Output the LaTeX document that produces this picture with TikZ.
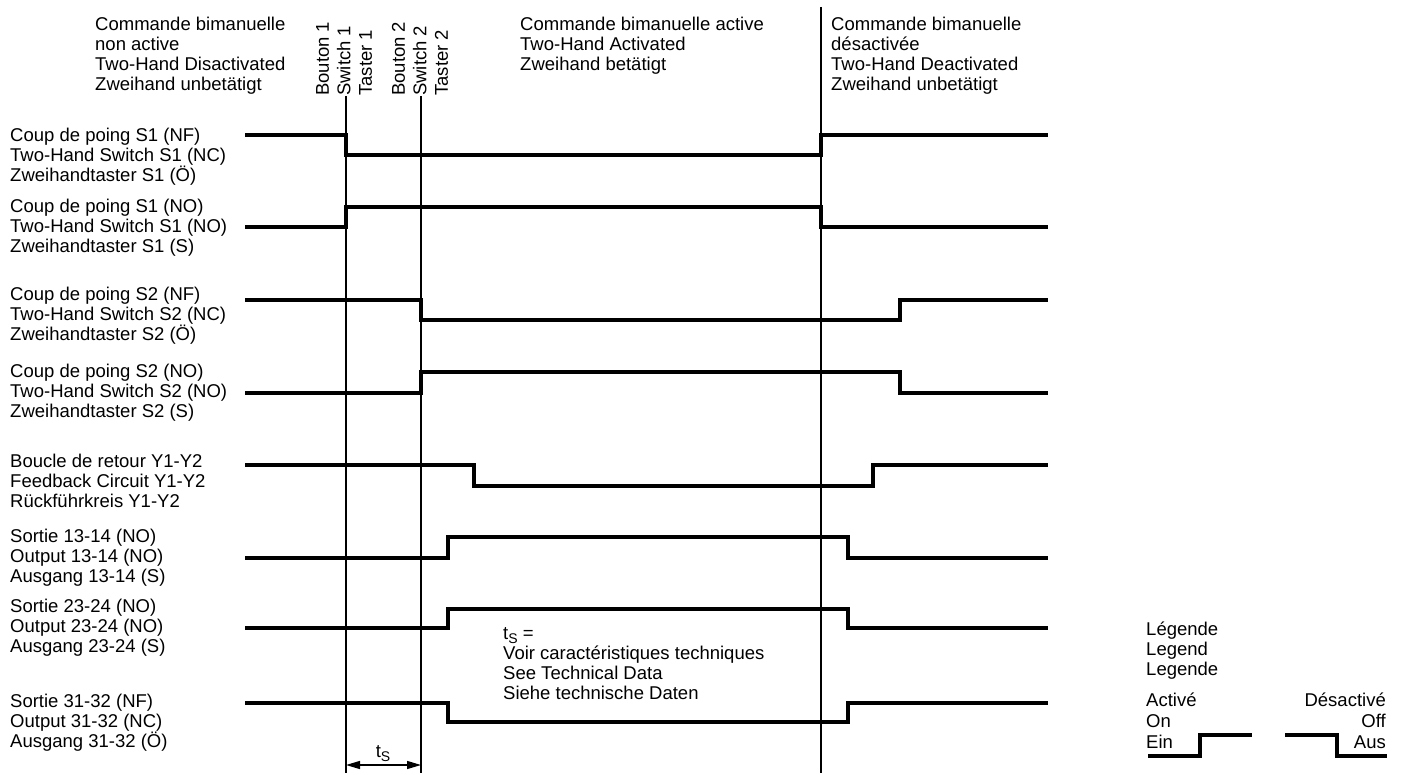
\documentclass[tikz,border=0pt]{standalone}
\usepackage{fontspec}
\setmainfont{Liberation Sans}
\usetikzlibrary{arrows.meta,positioning}
\newcommand{\tsub}{t\raisebox{-4pt}{\fontsize{14}{14}\selectfont S}}
% multi-line labels are placed at the baseline of their last line
\tikzset{
  tlabel/.style={anchor=base west, align=left, inner sep=0pt,
    font=\fontsize{18.5}{20}\selectfont},
  tvert/.style={rotate=90, anchor=west, align=left, inner sep=0pt,
    font=\fontsize{18.5}{21.5}\selectfont},
  tsig/.style={line width=4pt},
  tmark/.style={line width=1.8pt},
  tarrow/.style={{Triangle[length=14pt,width=8pt]}-{Triangle[length=14pt,width=8pt]}, line width=1.3pt}
}
\begin{document}
\begin{tikzpicture}[x=1pt,y=-1pt]
    \useasboundingbox (0,0) rectangle (1402,775);
    % headings
    \node[tlabel] (off1) at (95,91) {Commande bimanuelle\\non active\\Two-Hand Disactivated\\Zweihand unbetätigt};
    \node[tlabel] (act) at (520,71) {Commande bimanuelle active\\Two-Hand Activated\\Zweihand betätigt};
    \node[tlabel] (off2) at (831,91) {Commande bimanuelle\\désactivée\\Two-Hand Deactivated\\Zweihand unbetätigt};
    \node[tvert] (sw1) at (344,96) {Bouton 1\\Switch 1\\Taster 1};
    \node[tvert] (sw2) at (420,96) {Bouton 2\\Switch 2\\Taster 2};
    \draw[tmark](346,96)--(346,773);\draw[tmark](421,96)--(421,773);\draw[tmark](821,7)--(821,773);
    % signal names
    \node[tlabel] (s1nf) at (10,182) {Coup de poing S1 (NF)\\Two-Hand Switch S1 (NC)\\Zweihandtaster S1 (Ö)};
    \node[tlabel] (s1no) at (10,253) {Coup de poing S1 (NO)\\Two-Hand Switch S1 (NO)\\Zweihandtaster S1 (S)};
    \node[tlabel] (s2nf) at (10,341) {Coup de poing S2 (NF)\\Two-Hand Switch S2 (NC)\\Zweihandtaster S2 (Ö)};
    \node[tlabel] (s2no) at (10,417) {Coup de poing S2 (NO)\\Two-Hand Switch S2 (NO)\\Zweihandtaster S2 (S)};
    \node[tlabel] (fb) at (10,507) {Boucle de retour Y1-Y2\\Feedback Circuit Y1-Y2\\Rückführkreis Y1-Y2};
    \node[tlabel] (o13) at (10,582) {Sortie 13-14 (NO)\\Output 13-14 (NO)\\Ausgang 13-14 (S)};
    \node[tlabel] (o23) at (10,652) {Sortie 23-24 (NO)\\Output 23-24 (NO)\\Ausgang 23-24 (S)};
    \node[tlabel] (o31) at (10,747) {Sortie 31-32 (NF)\\Output 31-32 (NC)\\Ausgang 31-32 (Ö)};
    % signals
    \draw[tsig](245,135)--(346,135)--(346,155)--(821,155)--(821,135)--(1048,135);
    \draw[tsig](245,227)--(346,227)--(346,207)--(821,207)--(821,227)--(1048,227);
    \draw[tsig](245,300)--(421,300)--(421,320)--(900,320)--(900,300)--(1048,300);
    \draw[tsig](245,393)--(421,393)--(421,372)--(900,372)--(900,393)--(1048,393);
    \draw[tsig](245,465)--(474,465)--(474,486)--(873,486)--(873,465)--(1048,465);
    \draw[tsig](245,558)--(448,558)--(448,537)--(848,537)--(848,558)--(1048,558);
    \draw[tsig](245,628)--(448,628)--(448,609)--(848,609)--(848,628)--(1048,628);
    \draw[tsig](245,703)--(448,703)--(448,722)--(848,722)--(848,703)--(1048,703);
    % switching time
    \node[tlabel] (note) at (503,699) {\tsub{} =\\Voir caractéristiques techniques\\See Technical Data\\Siehe technische Daten};
    \coordinate (ta) at (346,765); \coordinate (tb) at (421,765);
    \draw[tarrow](ta)--(tb);
    \node[tlabel,anchor=base] (ts) at (383,757) {\tsub};
    % legend
    \node[tlabel] (leg) at (1146,675) {Légende\\Legend\\Legende};
    \node[tlabel,font=\fontsize{18.5}{21}\selectfont] (on) at (1146,748) {Activé\\On\\Ein};
    \node[tlabel,anchor=base east,align=right,font=\fontsize{18.5}{21}\selectfont] (off) at (1386,748) {Désactivé\\Off\\Aus};
    \draw[tsig](1148,756)--(1200,756)--(1200,735)--(1252,735);
    \draw[tsig](1285,735)--(1337,735)--(1337,756)--(1387,756);
  \end{tikzpicture}
\end{document}
